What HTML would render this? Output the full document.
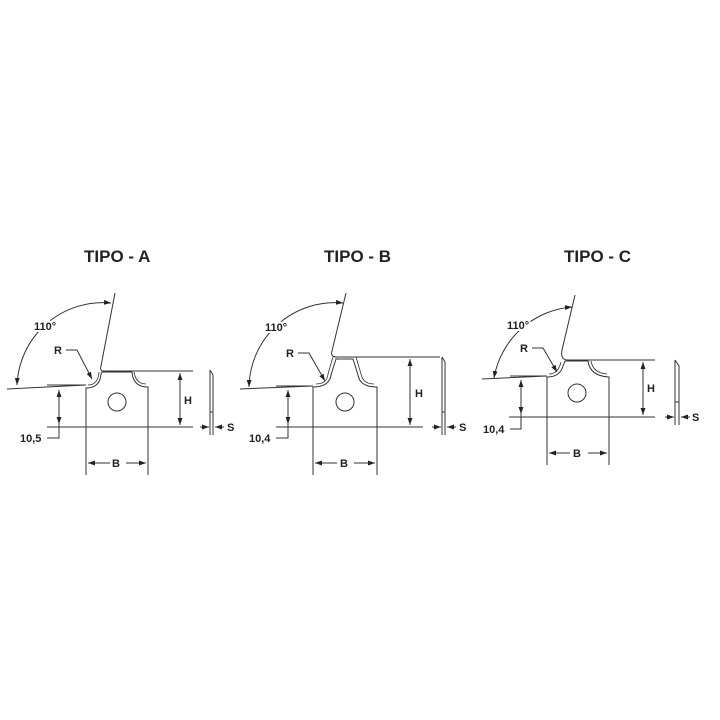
<!DOCTYPE html>
<html><head><meta charset="utf-8"><style>
html,body{margin:0;padding:0;background:#fff;}
svg{display:block}
text{font-family:"Liberation Sans",sans-serif;font-weight:bold;fill:#222;}
</style></head><body>
<svg width="720" height="720" viewBox="0 0 720 720" xmlns="http://www.w3.org/2000/svg">
<defs>
<marker id="a" viewBox="0 0 10 10" refX="10" refY="5" markerWidth="7" markerHeight="7" orient="auto-start-reverse"><path d="M0,1.5 L10,5 L0,8.5z" fill="#222"/></marker>
</defs>
<g stroke="#333" stroke-width="1" fill="none">
<!-- TIPO A -->
<path d="M115,293 L101,366 Q99,372 106,371 L193,371"/>
<path d="M7,389 L86,385"/>
<path d="M47,385 L86,385"/>
<path d="M86,475 L86,388 Q100,388 101,374 L102,372 L132,372 Q133,387 148,387 L148,475"/>
<path d="M88,385 Q98,385 99,372" stroke-width="0.8"/>
<path d="M134,372 Q136,384 146,384" stroke-width="0.8"/>
<circle cx="117" cy="402" r="9"/>
<path d="M47,427 L193,427"/>
<path d="M59,390 L59,424" marker-start="url(#a)" marker-end="url(#a)"/>
<path d="M59,424 L59,438 L47,438"/>
<path d="M180,373 L180,425" marker-start="url(#a)" marker-end="url(#a)"/>
<path d="M88,463 L110,463" marker-start="url(#a)"/>
<path d="M126,463 L146,463" marker-end="url(#a)"/>
<path d="M17,385 A86,86 0 0 1 111,303" marker-start="url(#a)" marker-end="url(#a)"/>
<path d="M66,350 L77,350 L92,379" marker-end="url(#a)"/>
<path d="M210,370 L213,375 L213,435 M210,370 L210,435 M210,412 L213,412"/>
<path d="M200,427 L209,427" marker-end="url(#a)"/>
<path d="M224,427 L215,427" marker-end="url(#a)"/>
<!-- TIPO B -->
<path d="M346,293 L332,351 Q330,357 337,357 L440,357"/>
<path d="M240,389 L313,386"/>
<path d="M276,386 L313,386"/>
<path d="M313,475 L313,387 Q329,387 331,375 L336,359 L353,359 L358,375 Q360,387 377,387 L377,475"/>
<path d="M316,384 Q327,384 328,374 L333,357 M356,357 L361,374 Q363,384 374,384" stroke-width="0.8"/>
<circle cx="345" cy="402" r="9"/>
<path d="M276,427 L423,427"/>
<path d="M288,390 L288,424" marker-start="url(#a)" marker-end="url(#a)"/>
<path d="M288,424 L288,438 L276,438"/>
<path d="M410,359 L410,425" marker-start="url(#a)" marker-end="url(#a)"/>
<path d="M315,463 L337,463" marker-start="url(#a)"/>
<path d="M354,463 L375,463" marker-end="url(#a)"/>
<path d="M249,387 A86,86 0 0 1 343,303" marker-start="url(#a)" marker-end="url(#a)"/>
<path d="M298,353 L309,353 L325,381" marker-end="url(#a)"/>
<path d="M442,357 L445,362 L445,435 M442,357 L442,435 M442,412 L445,412"/>
<path d="M432,427 L441,427" marker-end="url(#a)"/>
<path d="M456,427 L447,427" marker-end="url(#a)"/>
<!-- TIPO C -->
<path d="M575,295 L562,350 Q560,360 568,360 L655,360"/>
<path d="M482,379 L547,376"/>
<path d="M510,376 L547,376"/>
<path d="M547,465 L547,377 Q560,377 563,366 L565,361 L588,361 Q590,376 609,377 L609,465"/>
<path d="M549,374 Q558,374 561,362 M591,361 Q593,373 607,374" stroke-width="0.8"/>
<circle cx="577" cy="393" r="9"/>
<path d="M509,417 L655,417"/>
<path d="M521,380 L521,414" marker-start="url(#a)" marker-end="url(#a)"/>
<path d="M521,414 L521,429 L510,429"/>
<path d="M643,362 L643,415" marker-start="url(#a)" marker-end="url(#a)"/>
<path d="M549,453 L570,453" marker-start="url(#a)"/>
<path d="M588,453 L607,453" marker-end="url(#a)"/>
<path d="M494,378 A86,86 0 0 1 572,307" marker-start="url(#a)" marker-end="url(#a)"/>
<path d="M532,348 L543,348 L557,372" marker-end="url(#a)"/>
<path d="M675,360 L679,366 L679,425 M675,360 L675,425 M675,402 L679,402"/>
<path d="M665,417 L674,417" marker-end="url(#a)"/>
<path d="M690,417 L681,417" marker-end="url(#a)"/>
</g>
<g font-size="17">
<text x="84" y="262">TIPO - A</text>
<text x="324" y="262">TIPO - B</text>
<text x="564" y="262">TIPO - C</text>
</g>
<g font-size="11" stroke="#fff" stroke-width="4" paint-order="stroke">
<text x="34" y="330">110°</text>
<text x="265" y="331">110°</text>
<text x="507" y="329">110°</text>
</g>
<g font-size="11">
<text x="54" y="354">R</text>
<text x="286" y="357">R</text>
<text x="520" y="352">R</text>
<text x="20" y="442">10,5</text>
<text x="249" y="442">10,4</text>
<text x="483" y="433">10,4</text>
<text x="184" y="404">H</text>
<text x="415" y="397">H</text>
<text x="647" y="392">H</text>
<text x="112" y="467">B</text>
<text x="340" y="467">B</text>
<text x="573" y="457">B</text>
<text x="227" y="431">S</text>
<text x="459" y="431">S</text>
<text x="692" y="421">S</text>
</g>
</svg>
</body></html>
